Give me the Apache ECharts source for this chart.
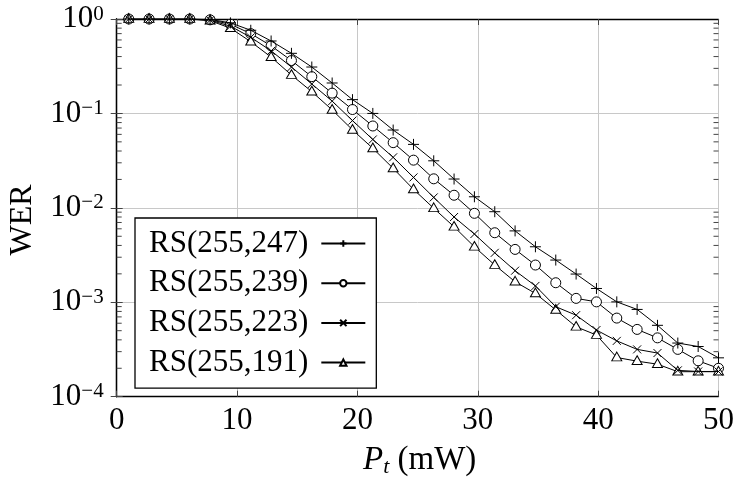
<!DOCTYPE html>
<html>
<head>
<meta charset="utf-8">
<script src="https://cdn.jsdelivr.net/npm/echarts@6/dist/echarts.min.js"></script>
<style>html,body{margin:0;padding:0;background:#fff}#c{width:737px;height:484px}</style>
</head>
<body>
<div id="c"></div>
<script>
const xValues = [1, 2.69, 4.38, 6.07, 7.76, 9.45, 11.14, 12.83, 14.52, 16.21, 17.9, 19.59, 21.28, 22.97, 24.66, 26.34, 28.03, 29.72, 31.41, 33.1, 34.79, 36.48, 38.17, 39.86, 41.55, 43.24, 44.93, 46.62, 48.31, 50];
const rs247 = [1, 1, 1, 1, 0.99, 0.91, 0.76, 0.585, 0.433, 0.31, 0.21, 0.14, 0.1, 0.0667, 0.047, 0.0315, 0.0202, 0.0131, 0.0091, 0.0057, 0.00387, 0.0028, 0.00199, 0.0014, 0.00101, 0.00084, 0.00057, 0.00037, 0.00034, 0.000258];
const rs239 = [1, 1, 1, 1, 0.98, 0.88, 0.70, 0.52, 0.363, 0.245, 0.164, 0.11, 0.0736, 0.049, 0.032, 0.0203, 0.0136, 0.00875, 0.00545, 0.00363, 0.00248, 0.00161, 0.0011, 0.00101, 0.00068, 0.000516, 0.00042, 0.000317, 0.00024, 0.0002];
const rs223 = [1, 1, 1, 1, 0.97, 0.84, 0.64, 0.46, 0.31, 0.205, 0.135, 0.084, 0.053, 0.0343, 0.021, 0.0129, 0.008, 0.00528, 0.00334, 0.00216, 0.00149, 0.000897, 0.00073, 0.000508, 0.00039, 0.000317, 0.00029, 0.00019, 0.000185, 0.000185];
const rs191 = [1, 1, 1, 1, 0.96, 0.80, 0.575, 0.395, 0.255, 0.17, 0.109, 0.067, 0.0427, 0.0262, 0.0157, 0.0099, 0.0063, 0.00387, 0.00248, 0.00165, 0.00124, 0.00083, 0.00055, 0.00045, 0.00026, 0.000238, 0.000221, 0.000184, 0.000184, 0.000184];
const seriesNames = ['RS(255,247)', 'RS(255,239)', 'RS(255,223)', 'RS(255,191)'];
const xTickLabels = ['0', '10', '20', '30', '40', '50'];
const yExponentLabels = ['0', '\u22121', '\u22122', '\u22123', '\u22124'];

const FONT = '"Liberation Serif", "DejaVu Serif", serif';
const chart = echarts.init(document.getElementById('c'), null, {renderer: 'canvas'});

// minor tick positions on the log axis (decoration)
const minorTicks = [];
for (let e = -4; e < 0; e++) for (let m = 2; m <= 9; m++) minorTicks.push([0, m * Math.pow(10, e)]);

const symbols = [
  'path://M5,0L5,10M0,5L10,5',
  'circle',
  'path://M0,0L10,10M10,0L0,10',
  'path://M5,0L10,8.66L0,8.66Z'
];
const symbolSizes = [11, 10, 8, [10, 8.7]];
const symbolFill = ['rgba(0,0,0,0)', '#fff', 'rgba(0,0,0,0)', '#fff'];
const seriesZ = [5, 3, 5, 4];
const values = [rs247, rs239, rs223, rs191];

const lineSeries = values.map((arr, i) => ({
  name: seriesNames[i],
  type: 'line',
  data: xValues.map((x, j) => [x, arr[j]]),
  symbol: symbols[i],
  symbolSize: symbolSizes[i],
  symbolOffset: i === 3 ? [0, -1] : [0, 0],
  showAllSymbol: true,
  lineStyle: {color: '#000', width: 1},
  itemStyle: {color: symbolFill[i], borderColor: '#000', borderWidth: 1},
  emphasis: {disabled: true},
  animation: false,
  z: seriesZ[i]
}));

const axisLineStyle = {show: true, lineStyle: {color: '#000', width: 1.3}};
const tickStyle = {show: true, inside: true, length: 6, lineStyle: {color: '#444', width: 1}};

chart.setOption({
  animation: false,
  backgroundColor: '#fff',
  grid: {left: 116.7, right: 15.3, top: 19, bottom: 87.3, containLabel: false},
  xAxis: [{
    type: 'value', min: 0, max: 50, interval: 10, position: 'bottom',
    axisLine: axisLineStyle, axisTick: tickStyle,
    axisLabel: {
      margin: 9, color: '#000', fontFamily: FONT, fontSize: 31,
      formatter: v => xTickLabels[Math.round(v / 10)]
    },
    splitLine: {show: true, lineStyle: {color: '#c8c8c8', width: 1}}
  }, {
    type: 'value', min: 0, max: 50, interval: 10, position: 'top',
    axisLine: axisLineStyle, axisTick: tickStyle, axisLabel: {show: false}, splitLine: {show: false}
  }],
  yAxis: [{
    type: 'log', logBase: 10, min: 1e-4, max: 1, position: 'left',
    axisLine: axisLineStyle, axisTick: tickStyle,
    axisLabel: {
      margin: 13, color: '#000', fontFamily: FONT,
      formatter: v => '{b|10}{e|' + yExponentLabels[Math.round(-Math.log10(v))] + '}',
      rich: {
        b: {fontFamily: FONT, fontSize: 31, lineHeight: 31, verticalAlign: 'bottom', color: '#000'},
        e: {fontFamily: FONT, fontSize: 21, lineHeight: 21, verticalAlign: 'top', padding: [0, 0, 15, 0], color: '#000'}
      }
    },
    splitLine: {show: true, lineStyle: {color: '#c8c8c8', width: 1}}
  }, {
    type: 'log', logBase: 10, min: 1e-4, max: 1, position: 'right',
    axisLine: axisLineStyle, axisTick: tickStyle, axisLabel: {show: false}, splitLine: {show: false}
  }],
  legend: {
    data: seriesNames,
    orient: 'vertical',
    left: 135, top: 218,
    align: 'right',
    backgroundColor: '#fff',
    borderColor: '#000', borderWidth: 1.3,
    padding: [10, 10, 10, 14],
    itemGap: 8.7,
    itemWidth: 44, itemHeight: 8,
    selectedMode: false,
    z: 10,
    textStyle: {fontFamily: FONT, fontSize: 31, lineHeight: 30, color: '#000', padding: [0, 8, 0, 0]}
  },
  graphic: [
    {type: 'text', x: 23, y: 220, rotation: Math.PI / 2,
     style: {text: 'WER', fontFamily: FONT, fontSize: 32, fill: '#000', align: 'center', verticalAlign: 'middle'}},
    {type: 'text', x: 363, y: 460,
     style: {
       text: '{i|P}{s|t}{n| (mW)}', align: 'left', verticalAlign: 'middle', fill: '#000',
       rich: {
         i: {fontFamily: FONT, fontSize: 33, fontStyle: 'italic', lineHeight: 33, fill: '#000'},
         s: {fontFamily: FONT, fontSize: 22, fontStyle: 'italic', lineHeight: 22, verticalAlign: 'top', padding: [13, 0, 0, 0], fill: '#000'},
         n: {fontFamily: FONT, fontSize: 33, lineHeight: 33, fill: '#000'}
       }
     }}
  ],
  series: lineSeries.concat([{
    type: 'custom',
    silent: true,
    animation: false,
    data: minorTicks,
    z: 2,
    renderItem: (params, api) => {
      const v = api.value(1);
      const pl = api.coord([0, v]);
      const pr = api.coord([50, v]);
      return {type: 'group', children: [
        {type: 'line', shape: {x1: pl[0], y1: pl[1], x2: pl[0] + 5, y2: pl[1]}, style: {stroke: '#444', lineWidth: 1}},
        {type: 'line', shape: {x1: pr[0], y1: pr[1], x2: pr[0] - 5, y2: pr[1]}, style: {stroke: '#444', lineWidth: 1}}
      ]};
    }
  }])
});
</script>
</body>
</html>
